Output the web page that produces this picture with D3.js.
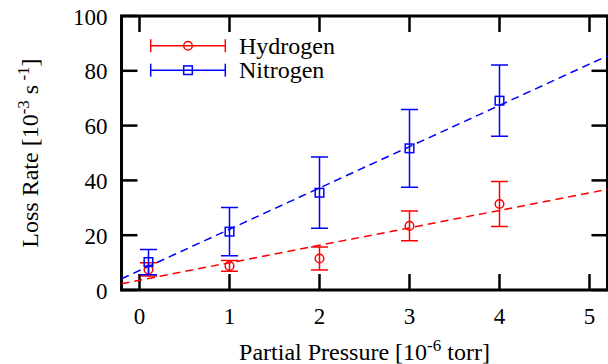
<!DOCTYPE html>
<html>
<head>
<meta charset="utf-8">
<script src="https://cdn.jsdelivr.net/npm/d3@7/dist/d3.min.js"></script>
<style>
html,body{margin:0;padding:0;background:#fff;}
svg{display:block;}
text{font-family:"Liberation Serif","Times New Roman",Times,serif;fill:#000;}
</style>
</head>
<body>
<svg id="chart" width="608" height="364"></svg>
<script>
// ---- data ----
const pressures = [0.1, 1, 2, 3, 4];
const hydrogenRate = [7.5, 8.8, 11.5, 23.4, 31.4];
const hydrogenErr  = [2.4, 2.0, 4.2, 5.4, 8.2];
const nitrogenRate = [10.2, 21.3, 35.5, 51.7, 69.1];
const nitrogenErr  = [4.6, 8.8, 13.0, 14.2, 13.0];
const hydrogenFit = [3.57, 6.37];   // intercept, slope
const nitrogenFit = [7.1, 15.07];
const xTicks = [0, 1, 2, 3, 4, 5];
const yTicks = [0, 20, 40, 60, 80, 100];
const seriesNames = ["Hydrogen", "Nitrogen"];

const svg = d3.select("#chart");
const L = 121.5, R = 607.5, T = 16, B = 290;
const x = d3.scaleLinear().domain([-0.2, 5.2]).range([L, R]);
const y = d3.scaleLinear().domain([0, 100]).range([B, T]);

const tickLen = 16;

// ticks
const tg = svg.append("g").attr("stroke", "#000").attr("stroke-width", 2.5);
xTicks.forEach(t => {
  tg.append("line").attr("x1", x(t)).attr("x2", x(t)).attr("y1", B).attr("y2", B - tickLen);
  tg.append("line").attr("x1", x(t)).attr("x2", x(t)).attr("y1", T).attr("y2", T + tickLen);
});
yTicks.forEach(t => {
  tg.append("line").attr("x1", L).attr("x2", L + tickLen).attr("y1", y(t)).attr("y2", y(t));
  tg.append("line").attr("x1", R).attr("x2", R - tickLen).attr("y1", y(t)).attr("y2", y(t));
});

// tick labels
svg.append("g").selectAll("text").data(xTicks).join("text")
  .attr("x", d => x(d)).attr("y", 323.5).attr("text-anchor", "middle")
  .attr("font-size", 23).text(d => d);
svg.append("g").selectAll("text").data(yTicks).join("text")
  .attr("x", 107.5).attr("y", d => y(d) + 8.5).attr("text-anchor", "end")
  .attr("font-size", 23).text(d => d);

// border
svg.append("rect").attr("x", L).attr("y", T).attr("width", R - L).attr("height", B - T)
  .attr("fill", "none").attr("stroke", "#000").attr("stroke-width", 3);

// axis labels
const xl = svg.append("text").attr("x", (L + R) / 2).attr("y", 359.5)
  .attr("text-anchor", "middle").attr("font-size", 24);
xl.append("tspan").text("Partial Pressure [10");
xl.append("tspan").attr("font-size", 17).attr("dy", -9).text("-6");
xl.append("tspan").attr("dy", 9).text(" torr]");

const yl = svg.append("text").attr("transform", `translate(38,${(T + B) / 2}) rotate(-90)`)
  .attr("text-anchor", "middle").attr("font-size", 24);
yl.append("tspan").text("Loss Rate [10");
yl.append("tspan").attr("font-size", 17).attr("dy", -9).text("-3");
yl.append("tspan").attr("dy", 9).text(" s");
yl.append("tspan").attr("font-size", 17).attr("dy", -9).text(" -1");
yl.append("tspan").attr("dy", 9).text("]");

// clip
svg.append("clipPath").attr("id", "clip").append("rect")
  .attr("x", L).attr("y", T).attr("width", R - L).attr("height", B - T);

const series = [
  {name: seriesNames[0], color: "#ff0000", vals: hydrogenRate, err: hydrogenErr, fit: hydrogenFit, shape: "circle"},
  {name: seriesNames[1], color: "#0000ff", vals: nitrogenRate, err: nitrogenErr, fit: nitrogenFit, shape: "square"}
];

const capW = 8.5, mk = 4.3;
function marker(g, cx, cy, s) {
  if (s.shape === "circle") {
    g.append("circle").attr("cx", cx).attr("cy", cy).attr("r", mk)
      .attr("fill", "none").attr("stroke", s.color).attr("stroke-width", 1.5);
  } else {
    g.append("rect").attr("x", cx - mk).attr("y", cy - mk).attr("width", 2 * mk).attr("height", 2 * mk)
      .attr("fill", "none").attr("stroke", s.color).attr("stroke-width", 1.5);
  }
  g.append("circle").attr("cx", cx).attr("cy", cy).attr("r", 0.6).attr("fill", s.color);
}

const dg = svg.append("g").attr("clip-path", "url(#clip)");
series.forEach(s => {
  // fit line
  const dom = x.domain();
  const line = d3.line().x(d => x(d)).y(d => y(s.fit[0] + s.fit[1] * d));
  dg.append("path").attr("d", line(dom)).attr("fill", "none")
    .attr("stroke", s.color).attr("stroke-width", 1.5).attr("stroke-dasharray", "8,5");
  // error bars
  pressures.forEach((p, i) => {
    const cx = x(p), y1 = y(s.vals[i] + s.err[i]), y0 = y(s.vals[i] - s.err[i]);
    const g = dg.append("g").attr("stroke", s.color).attr("stroke-width", 1.5);
    g.append("line").attr("x1", cx).attr("x2", cx).attr("y1", y0).attr("y2", y1);
    g.append("line").attr("x1", cx - capW).attr("x2", cx + capW).attr("y1", y0).attr("y2", y0);
    g.append("line").attr("x1", cx - capW).attr("x2", cx + capW).attr("y1", y1).attr("y2", y1);
    marker(dg, cx, y(s.vals[i]), s);
  });
});

// legend
series.forEach((s, i) => {
  const ly = 45.7 + i * 24.5;
  const x0 = 150.7, x1 = 225.3, cap = 6.5;
  const g = svg.append("g").attr("stroke", s.color).attr("stroke-width", 1.5);
  g.append("line").attr("x1", x0).attr("x2", x1).attr("y1", ly).attr("y2", ly);
  g.append("line").attr("x1", x0).attr("x2", x0).attr("y1", ly - cap).attr("y2", ly + cap);
  g.append("line").attr("x1", x1).attr("x2", x1).attr("y1", ly - cap).attr("y2", ly + cap);
  marker(svg, (x0 + x1) / 2, ly, s);
  svg.append("text").attr("x", 239).attr("y", ly + 8).attr("font-size", 24).text(s.name);
});
</script>
</body>
</html>
